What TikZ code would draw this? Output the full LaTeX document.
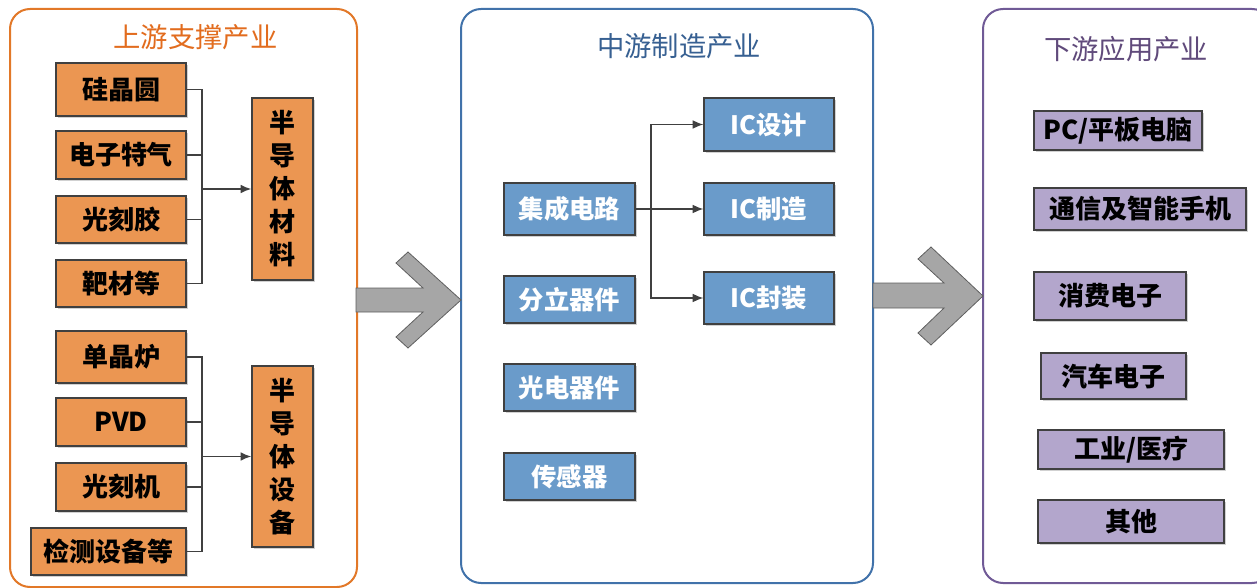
\documentclass[tikz,border=0pt]{standalone}
\usepackage{fontspec}
\setmainfont{Noto Sans CJK SC}
\usetikzlibrary{arrows.meta,shadows}
\definecolor{orfill}{RGB}{235,150,82}
\definecolor{orline}{RGB}{226,120,40}
\definecolor{ortitle}{RGB}{226,108,30}
\definecolor{blfill}{RGB}{106,155,202}
\definecolor{blline}{RGB}{65,114,170}
\definecolor{bltitle}{RGB}{55,96,146}
\definecolor{pufill}{RGB}{179,166,204}
\definecolor{puline}{RGB}{112,90,150}
\definecolor{putitle}{RGB}{96,74,123}
\definecolor{edgec}{RGB}{64,64,64}
\definecolor{arrfill}{RGB}{166,166,166}
\definecolor{arrline}{RGB}{95,95,95}
\begin{document}
\begin{tikzpicture}[x=0.75pt,y=-0.75pt,
  container/.style={line width=1.5pt, rounded corners=15pt, fill=white},
  ctitle/.style={font=\fontsize{20.5}{24}\selectfont, inner sep=0pt},
  boxat/.style n args={4}{at={({(#1+#3)/2},{(#2+#4)/2})},
    minimum width={(#3-#1)*0.75pt}, minimum height={(#4-#2)*0.75pt}},
  boxbase/.style={draw=edgec, line width=0.9pt, inner sep=0pt,
    drop shadow={shadow xshift=1.5pt, shadow yshift=-1.5pt, fill=black!18, opacity=1}},
  obox/.style={boxbase, fill=orfill, text=black, font=\fontsize{19.5}{24.75}\selectfont\bfseries, align=center},
  bbox/.style={boxbase, fill=blfill, text=white, font=\fontsize{19}{24}\selectfont\bfseries},
  pbox/.style={boxbase, fill=pufill, text=black, font=\fontsize{19.5}{24}\selectfont\bfseries},
  link/.style={draw=edgec, line width=1pt},
  arr/.style={draw=edgec, line width=1.3pt, -{Latex[length=8pt,width=6.5pt]}},
  bigarrow/.style={fill=arrfill, draw=arrline, line width=0.6pt, line join=miter}
]
\useasboundingbox (0,0) rectangle (1257,588);
\begin{scope}
\clip (0,0) rectangle (1257,588);
% containers
\draw[container, draw=orline] (10,9) rectangle (357,587);
\draw[container, draw=blline] (461,9) rectangle (873,583);
\draw[container, draw=puline] (983,9) rectangle (1272,583);
\end{scope}

% titles
\node[ctitle, text=ortitle] (t1) at (195.5,37.5) {上游支撑产业};
\node[ctitle, text=bltitle] (t2) at (679,46) {中游制造产业};
\node[ctitle, text=putitle] (t3) at (1126,49) {下游应用产业};

% upstream: materials
\node[obox, boxat={56}{63}{186}{116}] (a1) {硅晶圆};
\node[obox, boxat={56}{131}{186}{179}] (a2) {电子特气};
\node[obox, boxat={56}{196}{186}{243}] (a3) {光刻胶};
\node[obox, boxat={56}{260}{186}{307}] (a4) {靶材等};
\node[obox, boxat={252}{98}{313}{280}] (ma) {半\\导\\体\\材\\料};

% upstream: equipment
\node[obox, boxat={56}{331}{186}{383}] (e1) {单晶炉};
\node[obox, boxat={56}{398}{186}{446}] (e2) {PVD};
\node[obox, boxat={56}{463}{186}{511}] (e3) {光刻机};
\node[obox, boxat={31}{528}{186}{575}] (e4) {检测设备等};
\node[obox, boxat={252}{366}{313}{547}] (me) {半\\导\\体\\设\\备};

\coordinate (busA) at (202,0);
\draw[link] (a1.east) -- (a1.east -| busA) -- (a4.east -| busA) -- (a4.east);
\draw[link] (a2.east) -- (a2.east -| busA);
\draw[link] (a3.east) -- (a3.east -| busA);
\draw[arr] (ma.west -| busA) -- (ma.west);

\draw[link] (e1.east) -- (e1.east -| busA) -- (e4.east -| busA) -- (e4.east);
\draw[link] (e2.east) -- (e2.east -| busA);
\draw[link] (e3.east) -- (e3.east -| busA);
\draw[arr] (me.west -| busA) -- (me.west);

% midstream
\node[bbox, boxat={504}{183}{635}{235}] (m1) {集成电路};
\node[bbox, boxat={504}{276}{635}{323}] (m2) {分立器件};
\node[bbox, boxat={504}{364}{635}{411}] (m3) {光电器件};
\node[bbox, boxat={504}{453}{635}{500}] (m4) {传感器};
\node[bbox, boxat={704}{98}{834}{151}] (d1) {IC设计};
\node[bbox, boxat={704}{183}{834}{235}] (d2) {IC制造};
\node[bbox, boxat={704}{272}{834}{324}] (d3) {IC封装};

\coordinate (busB) at (651,0);
\draw[link, line width=1.3pt] (m1.east) -- (m1.east -| busB);
\draw[arr, line width=1pt] (m1.east -| busB) |- (d1.west);
\draw[arr, line width=1pt] (m1.east -| busB) -- (d2.west);
\draw[arr, line width=1pt] (m1.east -| busB) |- (d3.west);

% downstream
\node[pbox, boxat={1034}{111}{1202}{150}] (p1) {PC/平板电脑};
\node[pbox, boxat={1034}{188}{1246}{230}] (p2) {通信及智能手机};
\node[pbox, boxat={1034}{272}{1186}{320}] (p3) {消费电子};
\node[pbox, boxat={1041}{353}{1186}{399}] (p4) {汽车电子};
\node[pbox, boxat={1038}{430}{1224}{469}] (p5) {工业/医疗};
\node[pbox, boxat={1038}{500}{1224}{543}] (p6) {其他};

% big arrows
\draw[bigarrow] (356,288) -- (423,288) -- (396,263) -- (408,252) -- (461,300)
  -- (408,348) -- (396,337) -- (423,312) -- (356,312) -- cycle;
\draw[bigarrow] (873,283) -- (944,283) -- (918,259) -- (931,247) -- (983,296)
  -- (931,345) -- (918,333) -- (944,308) -- (873,308) -- cycle;
\end{tikzpicture}
\end{document}
